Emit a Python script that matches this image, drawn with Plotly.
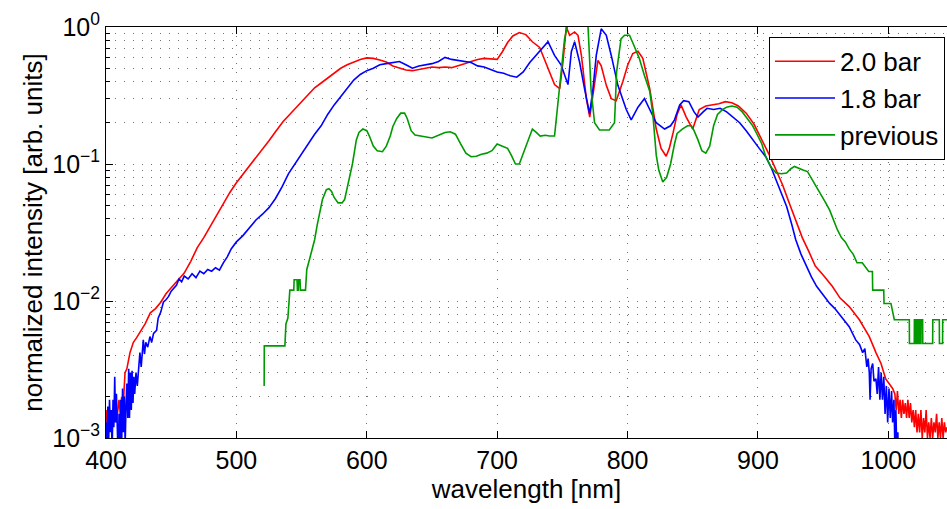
import plotly.graph_objects as go

# ---------------- data ----------------
red_wl = [400, 401, 402, 404, 406, 408, 410, 411, 412, 413, 414.6, 416, 418.4, 421, 423.5, 427.3, 430, 434, 438, 442,
          446, 450, 455, 460, 465, 470, 475, 480, 485, 490, 495, 500, 505, 510, 515, 520, 525, 530, 536, 540,
          545, 550, 555, 560, 565, 570, 575, 580, 585, 590, 595, 600, 605, 610, 615, 620, 625, 630, 635, 640,
          645, 650, 655, 660, 665, 670, 675, 680, 685, 690, 695, 700, 704, 708, 712, 717, 722, 727, 732.6, 737.7,
          744, 748, 750.4, 753, 755.6, 759.4, 762, 764.6, 768.4, 771, 773.5, 777.3, 779.8, 783.7, 787.5, 791.3, 796.4, 800.2, 804, 808,
          811.7, 817, 822, 825.7, 829.6, 832, 835, 838, 841, 845, 850, 855, 860, 865, 870, 875, 880, 885, 891, 897,
          903, 909, 914, 919, 924, 929, 934, 939, 944, 950, 957, 963, 970, 977.8, 985.4, 990.5, 994.4, 998, 1003.3, 1005,
          1006, 1007, 1008, 1009, 1010, 1011, 1012, 1013, 1014, 1015, 1016, 1017, 1018, 1019, 1020, 1021, 1022, 1023, 1024, 1025,
          1026, 1027, 1028, 1029, 1030, 1031, 1032, 1033, 1034, 1035, 1036, 1037, 1038, 1039, 1040, 1041, 1042, 1043, 1044, 1045]
red_val = [0.0016, 0.0012, 0.0015, 0.0013, 0.0017, 0.0013, 0.0019, 0.0015, 0.002, 0.0016, 0.003, 0.0032, 0.0042, 0.005, 0.0054, 0.0061, 0.0068, 0.0082, 0.0088, 0.0098,
           0.0113, 0.0125, 0.0142, 0.016, 0.0195, 0.0245, 0.029, 0.035, 0.043, 0.052, 0.062, 0.073, 0.084, 0.097, 0.11, 0.128, 0.148, 0.172, 0.205, 0.225,
           0.255, 0.285, 0.32, 0.36, 0.39, 0.425, 0.46, 0.5, 0.53, 0.555, 0.58, 0.595, 0.59, 0.575, 0.555, 0.52, 0.5, 0.485, 0.48, 0.49,
           0.5, 0.51, 0.505, 0.51, 0.505, 0.52, 0.54, 0.56, 0.58, 0.59, 0.585, 0.58, 0.66, 0.77, 0.86, 0.91, 0.88, 0.78, 0.71, 0.53,
           0.38, 0.355, 0.55, 1.0, 0.87, 0.92, 0.87, 0.62, 0.3, 0.22, 0.32, 0.57, 0.52, 0.375, 0.3, 0.29, 0.4, 0.53, 0.64, 0.665,
           0.59, 0.355, 0.18, 0.13, 0.114, 0.13, 0.17, 0.23, 0.27, 0.22, 0.18, 0.25, 0.265, 0.27, 0.275, 0.285, 0.28, 0.265, 0.235, 0.195,
           0.15, 0.115, 0.09, 0.07, 0.052, 0.039, 0.029, 0.023, 0.018, 0.0155, 0.0128, 0.0105, 0.0091, 0.0073, 0.0055, 0.0042, 0.0035, 0.0027, 0.0023, 0.0021,
           0.0016, 0.0022, 0.0015, 0.0019, 0.0014, 0.0019, 0.0015, 0.0018, 0.0014, 0.0019, 0.0014, 0.0018, 0.0013, 0.0016, 0.0012, 0.0016, 0.0011, 0.0015, 0.0011, 0.0016,
           0.001, 0.0014, 0.0011, 0.0016, 0.001, 0.0013, 0.001, 0.0014, 0.001, 0.0013, 0.0011, 0.0015, 0.001, 0.0013, 0.001, 0.0014, 0.001, 0.0013, 0.0011, 0.0012]

blue_wl = [400, 400.7, 401.4, 402, 402.7, 403.4, 404, 404.7, 405.4, 406, 406.7, 407.3, 408, 408.6, 409.3, 410, 410.7, 411.4, 412, 412.7,
           413.4, 414, 414.7, 415.4, 416, 416.7, 417.4, 418, 418.7, 419.4, 420, 420.7, 421.4, 422, 423, 424, 425, 426, 427, 428,
           428.6, 429.5, 430.5, 432, 433.7, 435, 436.5, 438.8, 440, 442, 444, 446, 448, 450, 452, 454, 456, 458, 460, 463,
           466, 469, 472, 475, 478, 481, 484, 487, 490, 493, 496, 500, 505, 510, 515, 520, 525, 530, 535, 540,
           545, 550, 555, 560, 565, 570, 575, 580, 585, 590, 595, 600, 605, 610, 615, 620, 625, 630, 635, 640,
           645, 650, 655, 660, 665, 670, 675, 680, 685, 690, 695, 700, 705, 710, 715, 720, 725, 732.6, 739, 744,
           749, 754.3, 756.9, 759.4, 763.2, 767, 770.9, 773.5, 776, 779.8, 783.7, 787.5, 792.6, 799, 802.8, 808, 813, 817, 822, 828.4,
           833, 836, 840, 843, 847, 851, 854, 858, 861, 866, 871, 876, 881, 886, 891, 896, 901, 906, 910, 914,
           918, 922, 926, 929, 933, 937, 941, 945, 950, 955, 959, 962, 966, 970, 975, 978, 980.3, 982, 983.5, 984.5,
           985.4, 986, 986.8, 988, 989, 990.5, 991.5, 992.5, 993.5, 994.5, 995.5, 996.5, 997.5, 998.5, 999.5, 1000.5, 1001.5, 1002.5, 1003.3, 1004.3,
           1005, 1005.8, 1006.5, 1007.3, 1008]
blue_val = [0.0013, 0.0008, 0.0017, 0.0009, 0.0019, 0.0011, 0.0016, 0.0008, 0.0019, 0.0012, 0.0028, 0.0013, 0.0021, 0.0009, 0.0007, 0.0015, 0.0008, 0.0019, 0.0009, 0.0023,
            0.0011, 0.002, 0.0009, 0.0018, 0.0025, 0.0014, 0.0032, 0.0014, 0.003, 0.0016, 0.0031, 0.0018, 0.0028, 0.0021, 0.003, 0.0024, 0.0035, 0.0042, 0.0033, 0.0047,
            0.0052, 0.0041, 0.005, 0.0046, 0.0055, 0.005, 0.0058, 0.0061, 0.0075, 0.0083, 0.0098, 0.0102, 0.0108, 0.0118, 0.0125, 0.013, 0.0145, 0.0138, 0.0152, 0.0145,
            0.0158, 0.0148, 0.0165, 0.0158, 0.017, 0.0165, 0.0175, 0.0168, 0.019, 0.021, 0.024, 0.027, 0.03, 0.034, 0.039, 0.043, 0.048, 0.056, 0.068, 0.085,
            0.1, 0.12, 0.14, 0.165, 0.19, 0.23, 0.27, 0.31, 0.36, 0.41, 0.45, 0.48, 0.5, 0.53, 0.54, 0.55, 0.56, 0.53, 0.5, 0.52,
            0.53, 0.54, 0.56, 0.6, 0.58, 0.57, 0.56, 0.55, 0.52, 0.51, 0.49, 0.47, 0.46, 0.44, 0.43, 0.47, 0.55, 0.66, 0.78, 0.62,
            0.53, 0.38, 0.66, 0.78, 0.555, 0.355, 0.233, 0.355, 0.62, 0.97, 0.87, 0.62, 0.375, 0.25, 0.21, 0.26, 0.3, 0.25, 0.2, 0.18,
            0.19, 0.21, 0.27, 0.29, 0.285, 0.24, 0.22, 0.24, 0.255, 0.25, 0.255, 0.24, 0.22, 0.2, 0.175, 0.15, 0.13, 0.113, 0.095, 0.076,
            0.061, 0.049, 0.036, 0.028, 0.022, 0.018, 0.015, 0.0128, 0.011, 0.0096, 0.0088, 0.0081, 0.0072, 0.0065, 0.0052, 0.0048, 0.0042, 0.0045, 0.0033, 0.0038,
            0.003, 0.0019, 0.0032, 0.0035, 0.0026, 0.0027, 0.0021, 0.0033, 0.0019, 0.003, 0.0019, 0.0028, 0.0015, 0.0024, 0.0013, 0.0023, 0.0014, 0.0022, 0.0013, 0.0019,
            0.0009, 0.0016, 0.0008, 0.0011, 0.0006]

green_wl = [521.3, 521.4, 537.2, 538.0, 539.5, 541.0, 544.0, 544.3, 546.5, 546.8, 547.5, 547.8, 548.8, 549.1, 553, 554, 556, 558, 560, 562,
            564, 566, 569, 571, 573, 575, 578, 581, 583, 585, 587, 589, 592, 594, 597, 600, 602, 605, 608, 612,
            615, 618, 620, 623, 626, 629, 631, 634, 637, 642, 646, 650, 655, 660, 664, 668, 672, 676, 680, 684,
            688, 692, 696, 700, 704, 708, 711, 714, 717, 720, 724, 727, 730, 733, 737, 740, 744, 746.6, 749, 751.7,
            754.3, 760, 769.6, 772, 774.7, 778.5, 786, 790, 791.6, 795, 797.7, 801.5, 805, 809, 813, 817, 819.4, 822, 824, 827,
            830, 833, 836, 838, 842, 846, 849, 851, 854, 857, 860, 863, 866, 869, 873, 876, 880, 884, 888, 892,
            896, 899, 903, 906, 910, 914, 918, 922, 925, 928, 931, 935, 938, 942, 945, 948, 952, 955, 958, 961,
            964, 967, 970, 973, 976, 980, 985, 987.8, 988, 996.5, 996.7, 1002, 1004.6, 1016.1, 1016.2, 1019.9, 1020, 1020.6, 1020.7, 1021.2,
            1021.3, 1021.9, 1022, 1022.5, 1022.6, 1023.1, 1023.2, 1023.8, 1023.9, 1024.4, 1024.5, 1025, 1025.1, 1026.3, 1026.4, 1034, 1034.1, 1039.1, 1039.2, 1041.6,
            1041.7, 1045]
green_val = [0.0024, 0.0047, 0.0047, 0.0068, 0.0075, 0.012, 0.012, 0.0143, 0.0143, 0.012, 0.012, 0.0143, 0.0143, 0.012, 0.012, 0.017, 0.02, 0.024, 0.028, 0.036,
             0.044, 0.055, 0.065, 0.066, 0.063, 0.057, 0.052, 0.052, 0.055, 0.066, 0.081, 0.1, 0.15, 0.17, 0.18, 0.175, 0.16, 0.135, 0.125, 0.123,
             0.135, 0.16, 0.188, 0.215, 0.235, 0.235, 0.215, 0.175, 0.163, 0.16, 0.158, 0.155, 0.162, 0.17, 0.172, 0.165, 0.14, 0.12, 0.113, 0.114,
             0.118, 0.12, 0.125, 0.14, 0.135, 0.13, 0.115, 0.1, 0.1, 0.12, 0.155, 0.18, 0.17, 0.16, 0.162, 0.16, 0.16, 0.268, 0.47, 0.82,
             1.05, 1.5, 1.05, 0.35, 0.2, 0.177, 0.177, 0.2, 0.47, 0.82, 0.87, 0.87, 0.73, 0.59, 0.44, 0.34, 0.23, 0.116, 0.09, 0.074,
             0.08, 0.1, 0.14, 0.167, 0.18, 0.19, 0.19, 0.175, 0.15, 0.125, 0.12, 0.135, 0.19, 0.23, 0.25, 0.26, 0.265, 0.26, 0.24, 0.215,
             0.19, 0.167, 0.14, 0.113, 0.095, 0.086, 0.085, 0.086, 0.092, 0.096, 0.093, 0.09, 0.088, 0.076, 0.068, 0.061, 0.052, 0.046, 0.039, 0.033,
             0.029, 0.027, 0.024, 0.022, 0.019, 0.019, 0.0164, 0.0164, 0.012, 0.012, 0.0096, 0.0096, 0.0073, 0.0073, 0.0049, 0.0049, 0.0073, 0.0073, 0.0049, 0.0049,
             0.0073, 0.0073, 0.0049, 0.0049, 0.0073, 0.0073, 0.0049, 0.0049, 0.0073, 0.0073, 0.0049, 0.0049, 0.0073, 0.0073, 0.0049, 0.0049, 0.0073, 0.0073, 0.0049, 0.0049,
             0.0073, 0.0073]

series_names = ["2.0 bar", "1.8 bar", "previous"]
x_ticks = [400, 500, 600, 700, 800, 900, 1000]
y_ticks = [0.001, 0.01, 0.1, 1]
y_ticktext = ["10<sup>\u22123</sup>", "10<sup>\u22122</sup>", "10<sup>\u22121</sup>", "10<sup>0</sup>"]
y_minor = [m * d for d in (0.001, 0.01, 0.1) for m in range(2, 10)]

FONT = "Liberation Sans, Arial, sans-serif"
GRID = "#707070"

fig = go.Figure()
for wl, val, name, col in [(red_wl, red_val, series_names[0], "#ff0000"),
                           (blue_wl, blue_val, series_names[1], "#0000ff"),
                           (green_wl, green_val, series_names[2], "#009a00")]:
    fig.add_trace(go.Scatter(x=wl, y=val, mode="lines", name=name,
                             line=dict(color=col, width=1.6)))

fig.update_layout(
    width=947, height=509,
    margin=dict(l=106, r=0, t=27, b=71),
    paper_bgcolor="white", plot_bgcolor="white",
    font=dict(family=FONT, size=25, color="black"),
    showlegend=True,
    legend=dict(x=0.9976, xanchor="right", y=0.976, yanchor="top",
                bgcolor="white", bordercolor="black", borderwidth=1,
                font=dict(size=26), itemwidth=60, tracegroupgap=0),
)
fig.update_xaxes(
    range=[400, 1045], tickvals=x_ticks, ticks="inside", ticklen=7, tickwidth=1,
    tickcolor="black", showline=True, linecolor="black", linewidth=1, mirror="ticks",
    showgrid=True, gridcolor=GRID, griddash="1px,8px", gridwidth=1, zeroline=False,
    tickfont=dict(size=25),
    title=dict(text="wavelength [nm]", font=dict(size=26), standoff=6),
)
fig.update_yaxes(
    type="log", range=[-3, 0], tickvals=y_ticks, ticktext=y_ticktext,
    ticks="inside", ticklen=7, tickwidth=1, tickcolor="black",
    showline=True, linecolor="black", linewidth=1, mirror=False,
    showgrid=True, gridcolor=GRID, griddash="1px,8px", gridwidth=1, zeroline=False,
    minor=dict(tickmode="array", tickvals=y_minor, ticks="inside", ticklen=4,
               tickcolor="black", showgrid=True, gridcolor=GRID, griddash="1px,8px", gridwidth=1),
    tickfont=dict(size=25),
    title=dict(text="normalized intensity [arb. units]", font=dict(size=26), standoff=2),
)

fig.write_html("out.html", config={"displayModeBar": False},
               post_script="document.body.style.margin='0';document.body.style.overflow='hidden';")
